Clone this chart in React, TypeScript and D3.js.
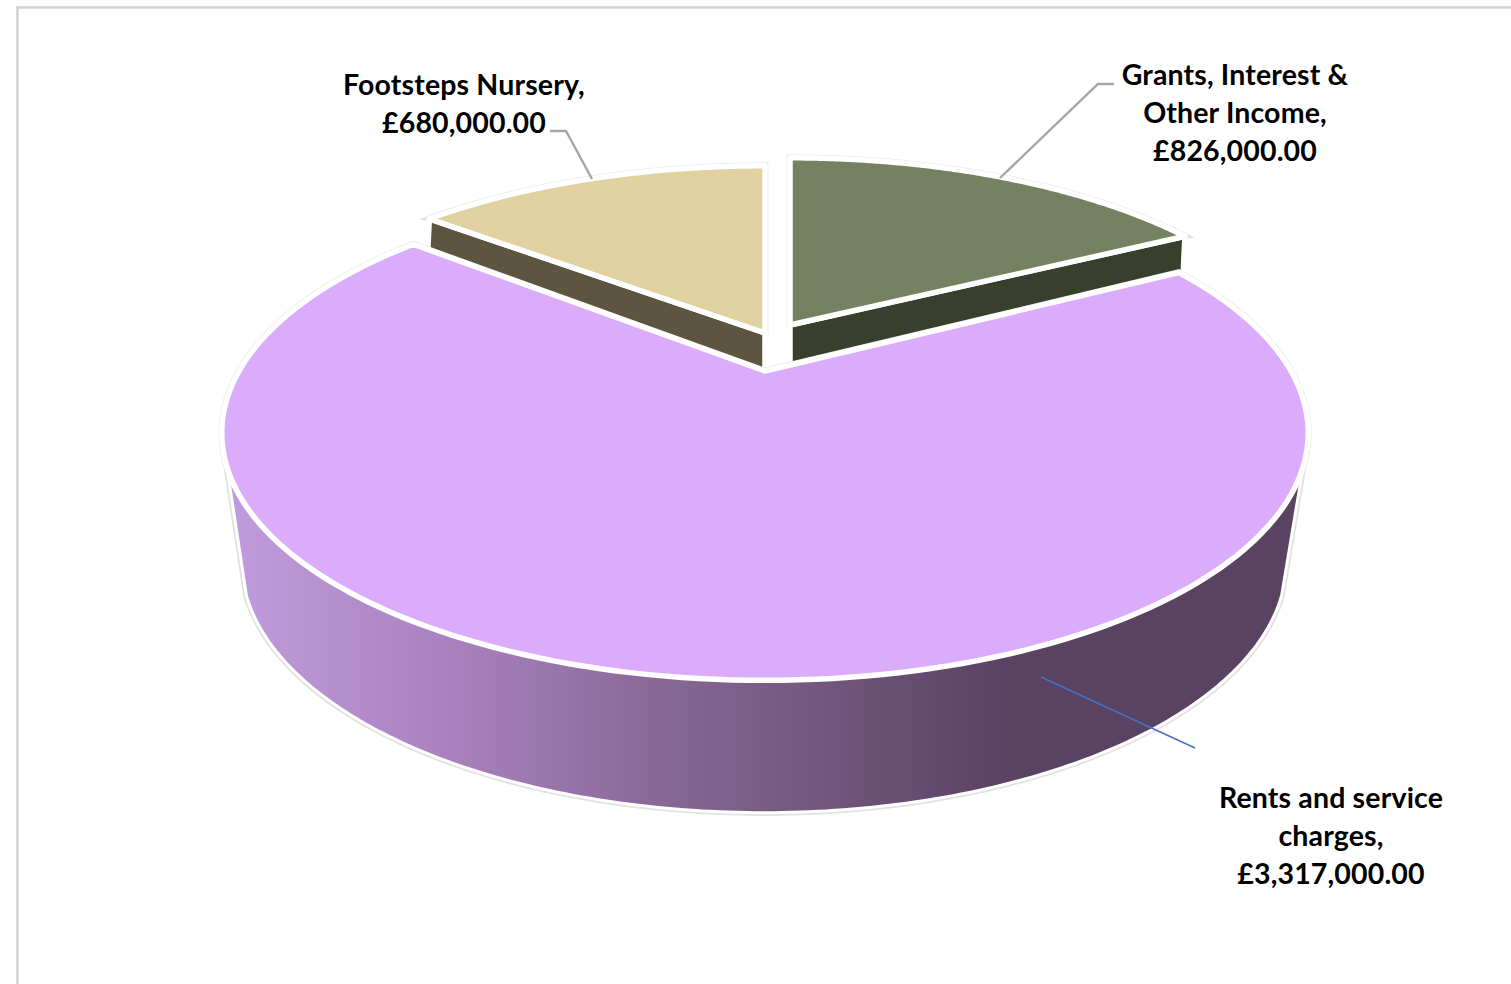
import React from "react";
import * as d3 from "d3";

// Income by source
const categories = ["Grants, Interest & Other Income", "Rents and service charges", "Footsteps Nursery"];
const values = [826000, 3317000, 680000];
const labelLines = [
  ["Grants, Interest &", "Other Income,"],
  ["Rents and service", "charges,"],
  ["Footsteps Nursery,"],
];
const topColours = ["#748262", "#dbacfb", "#dfd2a0"];
const wallColours = ["#383f2c", "#5a4263", "#5e5540"];

const W = 1511;
const H = 984;
const FONT = "Lato, 'Open Sans', sans-serif";

type Disc = { ox: number; oy: number; a: number; b: number; k: number };

// Perspective projection of a flat circle; theta is clockwise from the far edge.
const project = (d: Disc, t: number): [number, number] => {
  const den = 1 + d.k * Math.cos(t);
  return [d.ox + (d.a * Math.sin(t)) / den, d.oy - (d.b * Math.cos(t)) / den];
};

const rim = (d: Disc, t0: number, t1: number) =>
  d3.range(0, 181).map((i) => project(d, t0 + ((t1 - t0) * i) / 180));

const line = d3.line<[number, number]>();

const pie = d3.pie<number>().sort(null).startAngle(0).endAngle(Math.PI * 2);
const arcs = pie(values);

const discs: Disc[] = [
  { ox: 790, oy: 325, a: 502, b: 209, k: 0.25 },
  { ox: 765, oy: 371, a: 526, b: 232, k: 0.25 },
  { ox: 765, oy: 333, a: 502, b: 209, k: 0.25 },
];
const mainFloor: Disc = { ox: 764, oy: 498, a: 506, b: 236, k: 0.25 };
const SLICE_DEPTH = 42;

const sector = (d: Disc, t0: number, t1: number) =>
  line([[d.ox, d.oy], ...rim(d, t0, t1)]) + "Z";

// Flat cut face of a back slice, running from its point to one rim end.
const cutWall = (d: Disc, t: number) => {
  const [x, y] = project(d, t);
  return line([
    [d.ox, d.oy],
    [x, y],
    [x - 2, y + SLICE_DEPTH],
    [d.ox, d.oy + SLICE_DEPTH],
  ]) + "Z";
};

// Outer wall of the large slice: upper rim across the front, then the lower rim back.
const frontWall = () => {
  const m = discs[1];
  const t0 = (112 * Math.PI) / 180;
  const t1 = (248 * Math.PI) / 180;
  return line([...rim(m, t0, t1), ...rim(mainFloor, t1, t0)]) + "Z";
};

const money = (v: number) => "£" + d3.format(",.2f")(v);

const Label = ({ lines, cx, y }: { lines: string[]; cx: number; y: number }) => (
  <text
    x={cx}
    y={y}
    textAnchor="middle"
    fontFamily={FONT}
    fontWeight={700}
    fontSize={28.5}
    letterSpacing={0.15}
    fill="#000"
  >
    {lines.map((l, i) => (
      <tspan key={i} x={cx} dy={i === 0 ? 0 : 38}>
        {l}
      </tspan>
    ))}
  </text>
);

export default function App() {
  const [g, m, n] = arcs;
  const halo = { fill: "none", stroke: "#e2e2e2", strokeWidth: 6.5 };
  const edge = { stroke: "#fff", strokeWidth: 5.5, strokeLinejoin: "round" as const };
  return (
    <svg
      width={W}
      height={H}
      viewBox={`0 0 ${W} ${H}`}
      style={{ position: "absolute", left: 0, top: 0, display: "block" }}
    >
      <defs>
        <linearGradient id="wallShade" gradientUnits="userSpaceOnUse" x1={222} x2={1010} y1={0} y2={0}>
          <stop offset="0" stopColor="#c29cdd" />
          <stop offset="0.3" stopColor="#a880bd" />
          <stop offset="0.6" stopColor="#83648f" />
          <stop offset="1" stopColor={wallColours[1]} />
        </linearGradient>
      </defs>
      <rect width={W} height={H} fill="#fff" />
      <path d={`M17.5 ${H}V7.5H${W}`} fill="none" stroke="#d2d2d2" strokeWidth={2.5} />

      {/* back slices */}
      <path d={sector(discs[0], g.startAngle, g.endAngle)} {...halo} />
      <path d={sector(discs[2], n.startAngle, n.endAngle)} {...halo} />
      <path d={cutWall(discs[0], g.endAngle)} fill={wallColours[0]} {...edge} />
      <path d={sector(discs[0], g.startAngle, g.endAngle)} fill={topColours[0]} {...edge} />
      <path d={cutWall(discs[2], n.startAngle)} fill={wallColours[2]} {...edge} />
      <path d={sector(discs[2], n.startAngle, n.endAngle)} fill={topColours[2]} {...edge} />

      {/* large slice */}
      <path d={frontWall()} {...halo} />
      <path d={sector(discs[1], m.startAngle, m.endAngle)} {...halo} />
      <path d={frontWall()} fill="url(#wallShade)" stroke="#fff" strokeWidth={3} />
      <path d={sector(discs[1], m.startAngle, m.endAngle)} fill={topColours[1]} {...edge} />

      {/* leader lines */}
      <path d="M550 131H566L592 179" fill="none" stroke="#a6a6a6" strokeWidth={2.4} />
      <path d="M1114 84H1098L1000 178" fill="none" stroke="#a6a6a6" strokeWidth={2.4} />
      <path d="M1041 677L1195 748" fill="none" stroke="#4472c4" strokeWidth={1.5} />

      <Label lines={[...labelLines[2], money(values[2])]} cx={464} y={95} />
      <Label lines={[...labelLines[0], money(values[0])]} cx={1235} y={85} />
      <Label lines={[...labelLines[1], money(values[1])]} cx={1331} y={808} />
    </svg>
  );
}
